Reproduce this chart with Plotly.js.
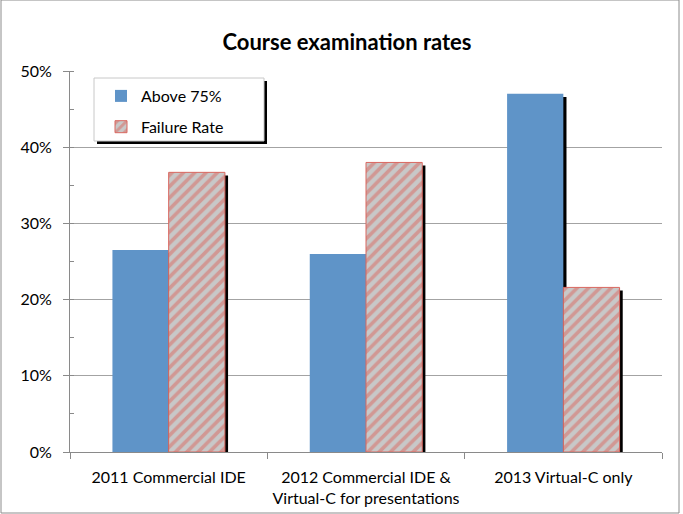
<!DOCTYPE html>
<html>
<head>
<meta charset="utf-8">
<script src="https://cdn.plot.ly/plotly-3.0.1.min.js"></script>
<style>
html,body{margin:0;padding:0;background:#fff;}
#chart{width:683px;height:514px;}
</style>
</head>
<body>
<div id="chart"></div>
<script>
// ---- data ----
const categories = [
  "2011 Commercial IDE",
  "2012 Commercial IDE &<br>Virtual-C for presentations",
  "2013 Virtual-C only"
];
const above75 = [0.265, 0.260, 0.470];
const failureRate = [0.367, 0.380, 0.216];
const seriesNames = ["Above 75%", "Failure Rate"];
const yTickVals = [0, 0.1, 0.2, 0.3, 0.4, 0.5];
const yTickText = ["0%", "10%", "20%", "30%", "40%", "50%"];
const chartTitle = "Course examination rates";

// ---- styling ----
const FONT = "Lato, 'Open Sans', sans-serif";
const W = 0.285;          // bar width in category units
const SH = 0.016;         // shadow shift in category units (~3px)
const SHY = 0.004;        // shadow drop (~3px)
const blue = "#5f94c8";
const red = "#d9675f";
const gray = "#c8c8c8";

const traces = [
  // shadows
  {type:"bar", x:categories, y:above75.map(v=>v-SHY), offset:-W+SH, width:W,
   marker:{color:"#000"}, showlegend:false, hoverinfo:"skip"},
  {type:"bar", x:categories, y:failureRate.map(v=>v-SHY), offset:SH, width:W,
   marker:{color:"#000"}, showlegend:false, hoverinfo:"skip"},
  // bars
  {type:"bar", name:seriesNames[0], x:categories, y:above75, offset:-W, width:W,
   marker:{color:blue, line:{width:0}}, legendgroup:"a"},
  {type:"bar", name:seriesNames[1], x:categories, y:failureRate, offset:0, width:W,
   marker:{color:gray, line:{color:red, width:1},
           pattern:{shape:"/", fgcolor:red, bgcolor:gray, size:8, solidity:0.45, fillmode:"overlay"}},
   legendgroup:"b"}
];

// plot area: x 70..662, y 71..452
const L=70, R=662, T=71, B=452;
const px = x => (x-L)/(R-L);
const py = y => (B-y)/(B-T);

const layout = {
  width:683, height:514,
  margin:{l:L, r:683-R, t:T, b:514-B, pad:0},
  paper_bgcolor:"#fff", plot_bgcolor:"#fff",
  font:{family:FONT, size:16, color:"#000"},
  barmode:"overlay",
  title:{text:"<b>"+chartTitle+"</b>", font:{family:FONT, size:22, color:"#000"},
         x:347/683, xanchor:"center", xref:"container", y:1-42/514, yanchor:"middle", yref:"container"},
  xaxis:{type:"category", range:[-0.5,2.5], showline:true, linecolor:"#8a8a8a", linewidth:1,
         ticks:"outside", ticklen:6, tickcolor:"#8a8a8a", tickson:"boundaries",
         showgrid:false, zeroline:false, tickfont:{size:16}, ticklabelstandoff:11, fixedrange:true},
  yaxis:{range:[0,0.5], tickvals:yTickVals, ticktext:yTickText, showline:true, linecolor:"#8a8a8a",
         ticks:"outside", ticklen:6, tickcolor:"#8a8a8a", gridcolor:"#a3a3a3", gridwidth:1,
         zeroline:false, tickfont:{size:16}, ticklabelstandoff:8,
         minor:{dtick:0.05, ticks:"inside", ticklen:4, tickcolor:"#8a8a8a", showgrid:false}},
  showlegend:true,
  legend:{x:px(101), y:py(79), xanchor:"left", yanchor:"top", bgcolor:"rgba(0,0,0,0)",
          borderwidth:0, font:{size:16}, tracegroupgap:7, traceorder:"grouped", itemwidth:30},
  shapes:[
    // outer border
    {type:"rect", xref:"paper", yref:"paper", x0:px(1), x1:px(679), y0:py(513), y1:py(0),
     line:{color:"#8c8c8c", width:1}, fillcolor:"rgba(0,0,0,0)", layer:"above"},
    // legend shadow
    {type:"rect", xref:"paper", yref:"paper", x0:px(97), x1:px(267), y0:py(144), y1:py(81),
     line:{width:0}, fillcolor:"#000", layer:"above"},
    // legend box
    {type:"rect", xref:"paper", yref:"paper", x0:px(94), x1:px(264), y0:py(141), y1:py(78),
     line:{color:"#c8c8c8", width:1}, fillcolor:"#fff", layer:"above"}
  ]
};

Plotly.newPlot("chart", traces, layout, {displayModeBar:false, staticPlot:true});
</script>
</body>
</html>
